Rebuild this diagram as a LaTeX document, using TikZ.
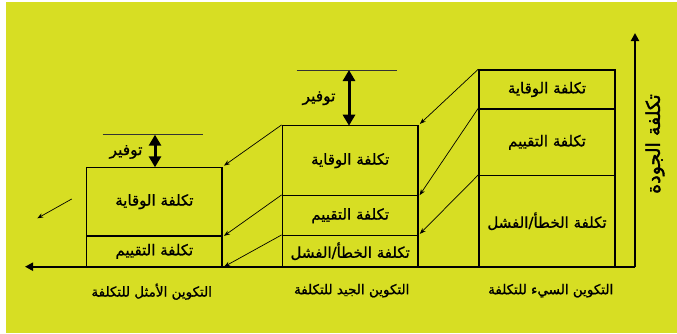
\documentclass[tikz,border=0pt]{standalone}
\usepackage{fontspec}
\newfontfamily\arabicfont[Script=Arabic,FakeBold=1]{DejaVu Sans}
\newfontfamily\arabicheavy[Script=Arabic,FakeBold=1.8]{DejaVu Sans}
\TeXXeTstate=1
\usetikzlibrary{arrows.meta}
\definecolor{bgyellow}{RGB}{215,222,35}
\newcommand{\artxt}[1]{\beginR #1\endR}
\tikzset{
  sec/.style={draw, line width=1.5pt, inner sep=0pt, font=\arabicfont\fontsize{15}{17}\selectfont},
  lbl/.style={inner sep=0pt, font=\arabicfont\fontsize{13.5}{16}\selectfont},
  savelbl/.style={inner sep=0pt, font=\arabicfont\fontsize{15.5}{17}\selectfont},
  conn/.style={line width=0.7pt, -{Stealth[length=6pt,width=4.5pt]}, shorten >=1.5pt},
  axisline/.style={line width=2pt, -{Triangle[length=8pt,width=8pt]}},
  saveline/.style={line width=0.8pt, black!80},
  savearrow/.style={line width=3pt, {Triangle[length=11pt,width=12pt]}-{Triangle[length=11pt,width=12pt]}}
}
\begin{document}
\begin{tikzpicture}[x=1pt,y=-1pt]
\useasboundingbox (0,0) rectangle (677,333);
\fill[white] (0,0) rectangle (677,333);
\fill[bgyellow] (6,2) rectangle (677,333);
% right stack
\node[sec, minimum width=136pt, minimum height=39pt] (R1) at (547,89.5) {\artxt{تكلفة الوقاية}};
\node[sec, minimum width=136pt, minimum height=66.7pt] (R2) at (547,142.35) {\artxt{تكلفة التقييم}};
\node[sec, minimum width=136pt, minimum height=91pt] (R3) at (547,221.2) {\artxt{تكلفة الخطأ/الفشل}};
% middle stack
\node[sec, minimum width=135.7pt, minimum height=70pt] (M1) at (350.15,160.7) {\artxt{تكلفة الوقاية}};
\node[sec, minimum width=135.7pt, minimum height=40pt] (M2) at (350.15,215.7) {\artxt{تكلفة التقييم}};
\node[sec, minimum width=135.7pt, minimum height=31pt] (M3) at (350.15,251.2) {\artxt{تكلفة الخطأ/الفشل}};
% left stack
\node[sec, minimum width=135.3pt, minimum height=68.7pt] (L1) at (154.35,201.65) {\artxt{تكلفة الوقاية}};
\node[sec, minimum width=135.3pt, minimum height=30.7pt] (L2) at (154.35,251.35) {\artxt{تكلفة التقييم}};
% axes
\coordinate (O) at (635,266.7);
\coordinate (xend) at (25,266.7);
\coordinate (yend) at (635,33);
\draw[axisline] (O) -- (xend);
\draw[axisline] (O) -- (yend);
\node[lbl, rotate=90, font=\arabicheavy\fontsize{19}{21}\selectfont] (ylab) at (655,144) {\artxt{تكلفة الجودة}};
% bottom labels
\node[lbl] (labR) at (550.7,290.7) {\artxt{التكوين السيء للتكلفة}};
\node[lbl] (labM) at (351.7,290.7) {\artxt{التكوين الجيد للتكلفة}};
\node[lbl] (labL) at (151.7,291.7) {\artxt{التكوين الأمثل للتكلفة}};
% savings
\coordinate (sMa) at (296.7,70);
\coordinate (sMb) at (397.3,70);
\draw[saveline] (sMa) -- (sMb);
\coordinate (sMtop) at (349,70);
\coordinate (sMbot) at (349,125.7);
\draw[savearrow] (sMtop) -- (sMbot);
\node[savelbl] (saveM) at (319,98.3) {\artxt{توفير}};
\coordinate (sLa) at (102.7,134.7);
\coordinate (sLb) at (203,134.7);
\draw[saveline] (sLa) -- (sLb);
\coordinate (sLtop) at (155,134.7);
\coordinate (sLbot) at (155,167.3);
\draw[savearrow] (sLtop) -- (sLbot);
\node[savelbl] (saveL) at (126,152) {\artxt{توفير}};
% connectors
\draw[conn] (R1.north west) -- (M1.north east);
\draw[conn] (R2.north west) -- (M1.south east);
\draw[conn] (R3.north west) -- (M3.north east);
\draw[conn] (M1.north west) -- (L1.north east);
\draw[conn] (M2.north west) -- (L1.south east);
\draw[conn] (M3.north west) -- (L2.south east);
\coordinate (fa) at (71.7,199);
\coordinate (fb) at (37.3,218.3);
\draw[conn, shorten >=0pt] (fa) -- (fb);
\end{tikzpicture}
\end{document}
